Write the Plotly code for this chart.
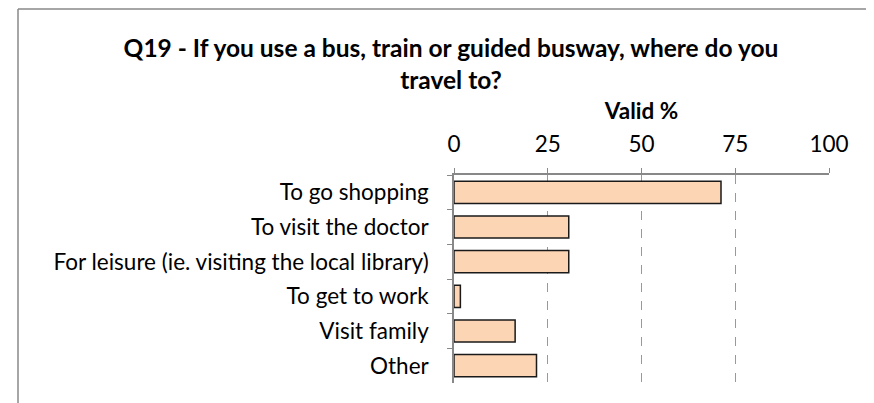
import plotly.graph_objects as go

categories = ["To go shopping", "To visit the doctor", "For leisure (ie. visiting the local library)",
              "To get to work", "Visit family", "Other"]
values = [71.2, 30.6, 30.6, 1.7, 16.3, 22.0]
tick_vals = [0, 25, 50, 75, 100]
tick_text = ["0", "25", "50", "75", "100"]

FONT = "Lato, 'Open Sans', sans-serif"

fig = go.Figure(go.Bar(
    y=categories, x=values, orientation="h",
    marker=dict(color="#FCD5B5", line=dict(color="#1a1a1a", width=1.5)),
    width=0.64,
))

# page body has an 8px default margin, so the figure is laid out 8px smaller
W, H = 866, 395
L, R, T, B = 446, 45, 167, 20
pw, ph = W - L - R, H - T - B

def px_x(p):
    return (p - L) / pw

def px_y(p):
    return (H - B - p) / ph

fig.update_layout(
    width=W, height=H,
    margin=dict(l=L, r=R, t=T, b=B, autoexpand=False),
    paper_bgcolor="white", plot_bgcolor="white",
    showlegend=False,
    font=dict(family=FONT, size=22.5, color="#000000"),
    title=dict(
        text="<b>Q19 - If you use a bus, train or guided busway, where do you<br>travel to?</b>",
        x=443 / W, xanchor="center", y=1 - 49 / H, yanchor="middle",
        font=dict(family=FONT, size=24.5, color="#000000"),
    ),
    xaxis=dict(
        side="top", range=[0, 100], tickvals=tick_vals, ticktext=tick_text,
        showline=True, linecolor="#888888", linewidth=1.5,
        ticks="outside", ticklen=5, tickcolor="#888888",
        showgrid=True, gridcolor="#999999", griddash="dash", gridwidth=1,
        zeroline=False, fixedrange=True, automargin=False,
        ticklabelstandoff=7,
        title=dict(text="<b>Valid %</b>", font=dict(family=FONT, size=22.5), standoff=4),
        tickfont=dict(family=FONT, size=22.5),
    ),
    yaxis=dict(
        autorange="reversed", showline=True, linecolor="#888888", linewidth=1.5,
        ticks="outside", ticklen=5, tickcolor="#888888", tickson="boundaries",
        showgrid=False, tickfont=dict(family=FONT, size=22.5), automargin=False,
        ticklabelstandoff=19,
    ),
    shapes=[
        dict(type="line", xref="paper", yref="paper",
             x0=px_x(10), x1=px_x(10), y0=px_y(1), y1=px_y(420),
             line=dict(color="#888888", width=1.5)),
        dict(type="line", xref="paper", yref="paper",
             x0=px_x(10), x1=px_x(900), y0=px_y(1), y1=px_y(1),
             line=dict(color="#888888", width=1.5)),
    ],
)

fig.write_html("out.html")
